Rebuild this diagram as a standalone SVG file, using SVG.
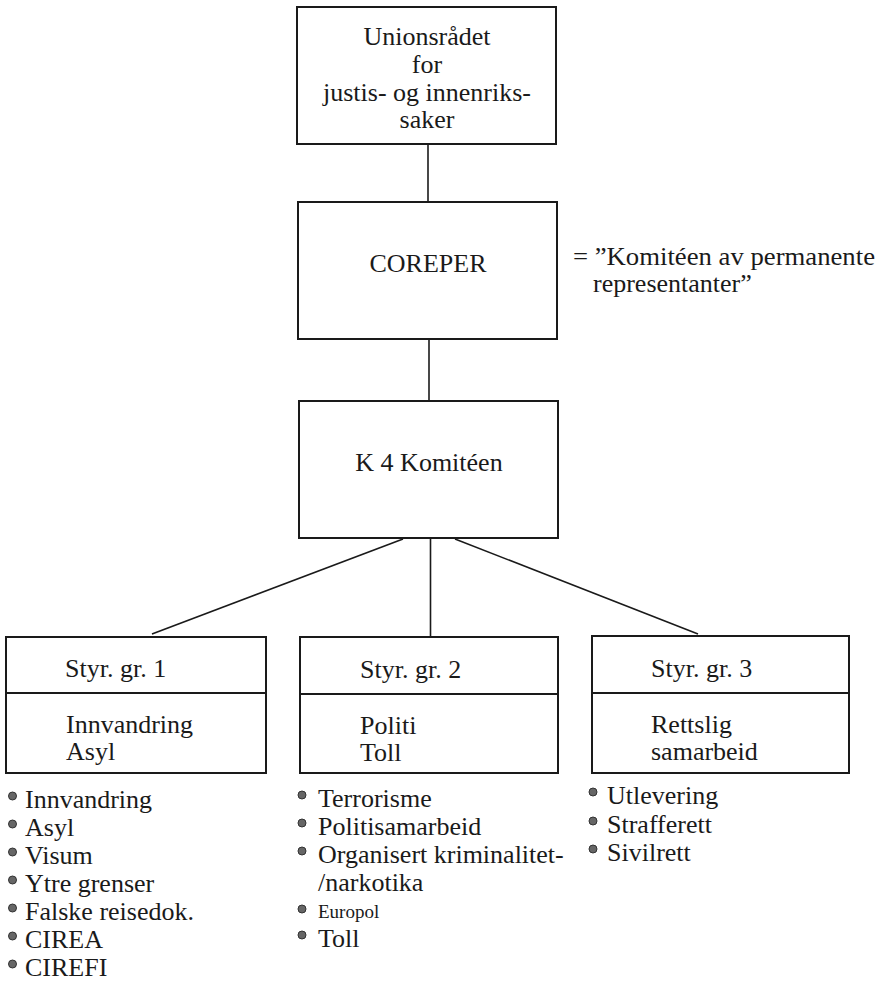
<svg xmlns="http://www.w3.org/2000/svg" width="883" height="981" viewBox="0 0 883 981" font-family="'Liberation Serif', 'Times New Roman', Times, serif">
<style>
  .box { fill: #ffffff; stroke: #1a1a1a; stroke-width: 2; }
  .div { stroke: #1a1a1a; stroke-width: 2; }
  .conn { stroke: #1a1a1a; stroke-width: 1.6; fill: none; }
  .t { font-family: 'Liberation Serif', 'Times New Roman', Times, serif; font-size: 26px; fill: #1a1a1a; }
  .c { text-anchor: middle; }
  .dot { fill: #666666; stroke: #333333; stroke-width: 1; }
  .small { font-size: 19px; }
</style>
<rect width="883" height="981" fill="#ffffff"/>

<g id="connectors">
  <line class="conn" x1="428" y1="144" x2="428" y2="202"/>
  <line class="conn" x1="429" y1="339" x2="429" y2="401"/>
  <line class="conn" x1="403" y1="539" x2="152" y2="634"/>
  <line class="conn" x1="430.5" y1="538" x2="430.5" y2="637"/>
  <line class="conn" x1="455" y1="539" x2="698" y2="634"/>
</g>

<g id="node-unionsradet">
  <rect class="box" x="297" y="7" width="259" height="137"/>
  <text class="t c" x="427" y="45">Unionsrådet</text>
  <text class="t c" x="427" y="73">for</text>
  <text class="t c" x="427" y="101">justis- og innenriks-</text>
  <text class="t c" x="427" y="128">saker</text>
</g>

<g id="node-coreper">
  <rect class="box" x="298" y="202" width="259" height="137"/>
  <text class="t c" x="428" y="272">COREPER</text>
</g>

<g id="annotation-coreper">
  <text class="t" x="573" y="265" textLength="302" lengthAdjust="spacingAndGlyphs">= ”Komitéen av permanente</text>
  <text class="t" x="593" y="292">representanter”</text>
</g>

<g id="node-k4">
  <rect class="box" x="299" y="401" width="259" height="137"/>
  <text class="t c" x="429" y="471">K 4 Komitéen</text>
</g>

<g id="node-styr1">
  <rect class="box" x="6" y="637" width="260" height="136"/>
  <line class="div" x1="6" y1="693" x2="266" y2="693"/>
  <text class="t" x="65" y="677">Styr. gr. 1</text>
  <text class="t" x="66" y="733">Innvandring</text>
  <text class="t" x="66" y="760">Asyl</text>
</g>

<g id="node-styr2">
  <rect class="box" x="300" y="637" width="258" height="136"/>
  <line class="div" x1="300" y1="694" x2="558" y2="694"/>
  <text class="t" x="360" y="678">Styr. gr. 2</text>
  <text class="t" x="360" y="734">Politi</text>
  <text class="t" x="360" y="761">Toll</text>
</g>

<g id="node-styr3">
  <rect class="box" x="592" y="636" width="257" height="137"/>
  <line class="div" x1="592" y1="693" x2="849" y2="693"/>
  <text class="t" x="651" y="677">Styr. gr. 3</text>
  <text class="t" x="651" y="733">Rettslig</text>
  <text class="t" x="651" y="760">samarbeid</text>
</g>

<g id="list-1">
  <circle class="dot" cx="12.5" cy="796" r="4"/><text class="t" x="25" y="808">Innvandring</text>
  <circle class="dot" cx="12.5" cy="824" r="4"/><text class="t" x="25" y="836">Asyl</text>
  <circle class="dot" cx="12.5" cy="852" r="4"/><text class="t" x="25" y="864">Visum</text>
  <circle class="dot" cx="12.5" cy="880" r="4"/><text class="t" x="25" y="892">Ytre grenser</text>
  <circle class="dot" cx="12.5" cy="908" r="4"/><text class="t" x="25" y="920">Falske reisedok.</text>
  <circle class="dot" cx="12.5" cy="936" r="4"/><text class="t" x="25" y="948">CIREA</text>
  <circle class="dot" cx="12.5" cy="964" r="4"/><text class="t" x="25" y="976">CIREFI</text>
</g>

<g id="list-2">
  <circle class="dot" cx="302" cy="795" r="4"/><text class="t" x="318" y="807">Terrorisme</text>
  <circle class="dot" cx="302" cy="823" r="4"/><text class="t" x="318" y="835">Politisamarbeid</text>
  <circle class="dot" cx="302" cy="851" r="4"/><text class="t" x="318" y="863">Organisert kriminalitet-</text>
  <text class="t" x="318" y="891">/narkotika</text>
  <circle class="dot" cx="302" cy="909" r="4"/><text class="t small" x="318" y="918">Europol</text>
  <circle class="dot" cx="302" cy="935" r="4"/><text class="t" x="318" y="947">Toll</text>
</g>

<g id="list-3">
  <circle class="dot" cx="593" cy="792" r="4"/><text class="t" x="607" y="804">Utlevering</text>
  <circle class="dot" cx="593" cy="821" r="4"/><text class="t" x="607" y="833">Strafferett</text>
  <circle class="dot" cx="593" cy="849" r="4"/><text class="t" x="607" y="861">Sivilrett</text>
</g>
</svg>
